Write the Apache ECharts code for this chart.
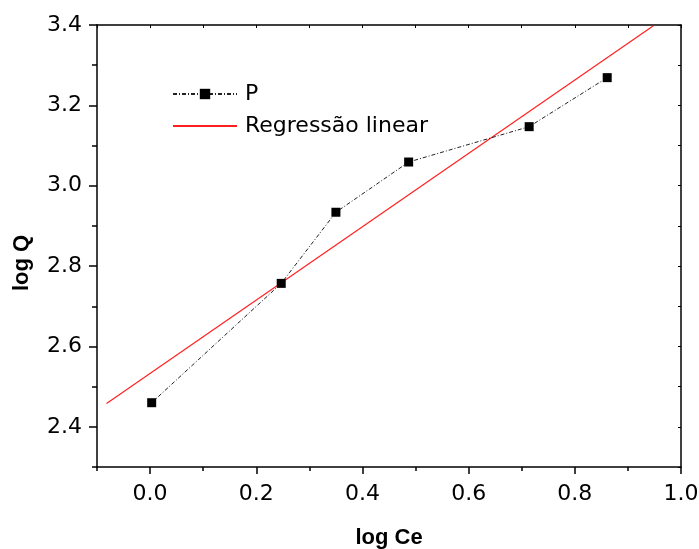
<!DOCTYPE html>
<html>
<head>
<meta charset="utf-8">
<script src="https://cdn.jsdelivr.net/npm/echarts@6/dist/echarts.min.js"></script>
<style>html,body{margin:0;padding:0;background:#fff}#c{width:699px;height:549px}</style>
</head>
<body>
<div id="c"></div>
<script>
// Data
const pX = [0.003, 0.247, 0.350, 0.487, 0.714, 0.861];
const pY = [2.460, 2.757, 2.934, 3.059, 3.147, 3.269];
const regX = [-0.082, 0.948];
const regY = [2.458, 3.398];
const xMajor = [0.0, 0.2, 0.4, 0.6, 0.8, 1.0];
const xMinor = [-0.1, 0.1, 0.3, 0.5, 0.7, 0.9];
const yMajor = [2.4, 2.6, 2.8, 3.0, 3.2, 3.4];
const yMinor = [2.3, 2.5, 2.7, 2.9, 3.1, 3.3];
const xAll = [-0.1,0.0,0.1,0.2,0.3,0.4,0.5,0.6,0.7,0.8,0.9,1.0];
const yAll = [2.3,2.4,2.5,2.6,2.7,2.8,2.9,3.0,3.1,3.2,3.3,3.4];

const FONT = 'DejaVu Sans';
const chart = echarts.init(document.getElementById('c'));
const lineCol = '#000';
const baseX = {type:'value', min:-0.1, max:1.0, interval:0.1, splitLine:{show:false}};
const baseY = {type:'value', min:2.3, max:3.4, interval:0.1, splitLine:{show:false}};
chart.setOption({
  animation:false,
  backgroundColor:'#fff',
  grid:{left:97, right:18, top:25, bottom:82, containLabel:false, outerBoundsMode:'none'},
  legend:{
    orient:'vertical', left:167, top:78, itemWidth:64, itemHeight:13, itemGap:10,
    textStyle:{fontFamily:FONT, fontSize:22, color:'#000', padding:[0,0,0,3]},
    data:[{name:'P'}, {name:'Regressão linear', itemStyle:{opacity:0}}]
  },
  xAxis:[
    Object.assign({}, baseX, {position:'bottom',
      name:'log Ce', nameLocation:'middle', nameGap:60,
      nameTextStyle:{fontFamily:'Liberation Sans', fontWeight:'bold', fontSize:22, color:'#000'},
      axisLine:{onZero:false, lineStyle:{color:lineCol, width:1.5}},
      axisTick:{inside:false, length:7, lineStyle:{color:lineCol, width:1.5}, customValues:xMajor},
      axisLabel:{customValues:xMajor, margin:16, fontFamily:FONT, fontSize:22, color:'#000',
        formatter:v=>v.toFixed(1)}}),
    Object.assign({}, baseX, {position:'bottom', offset:0,
      axisLine:{show:false, onZero:false},
      axisTick:{inside:false, length:4, lineStyle:{color:lineCol, width:1.5}, customValues:xMinor},
      axisLabel:{show:false}}),
    Object.assign({}, baseX, {position:'top',
      axisLine:{onZero:false, lineStyle:{color:lineCol, width:1.5}},
      axisTick:{inside:true, length:3, lineStyle:{color:lineCol, width:1}, customValues:xAll},
      axisLabel:{show:false}})
  ],
  yAxis:[
    Object.assign({}, baseY, {position:'left',
      name:'log Q', nameLocation:'middle', nameGap:64,
      nameTextStyle:{fontFamily:'Liberation Sans', fontWeight:'bold', fontSize:22, color:'#000', padding:[0,34,0,0]},
      axisLine:{onZero:false, lineStyle:{color:lineCol, width:1.5}},
      axisTick:{inside:false, length:8, lineStyle:{color:lineCol, width:1.5}, customValues:yMajor},
      axisLabel:{customValues:yMajor, margin:15, fontFamily:FONT, fontSize:22, color:'#000',
        formatter:v=>v.toFixed(1)}}),
    Object.assign({}, baseY, {position:'left', offset:0,
      axisLine:{show:false, onZero:false},
      axisTick:{inside:false, length:5, lineStyle:{color:lineCol, width:1.5}, customValues:yMinor},
      axisLabel:{show:false}}),
    Object.assign({}, baseY, {position:'right',
      axisLine:{onZero:false, lineStyle:{color:lineCol, width:1.5}},
      axisTick:{inside:true, length:3, lineStyle:{color:lineCol, width:1}, customValues:yAll},
      axisLabel:{show:false}})
  ],
  series:[
    {name:'P', type:'line', xAxisIndex:0, yAxisIndex:0,
      data:pX.map((x,i)=>[x,pY[i]]),
      symbol:'rect', symbolSize:9, showSymbol:true,
      itemStyle:{color:'#000'},
      lineStyle:{color:'#222', width:1, type:[4,2,1,2]}, z:3},
    {name:'Regressão linear', type:'line', xAxisIndex:0, yAxisIndex:0,
      data:regX.map((x,i)=>[x,regY[i]]),
      symbol:'none', itemStyle:{color:'#ff2020'},
      lineStyle:{color:'#ff2020', width:1.2}, z:2}
  ]
});
</script>
</body>
</html>
